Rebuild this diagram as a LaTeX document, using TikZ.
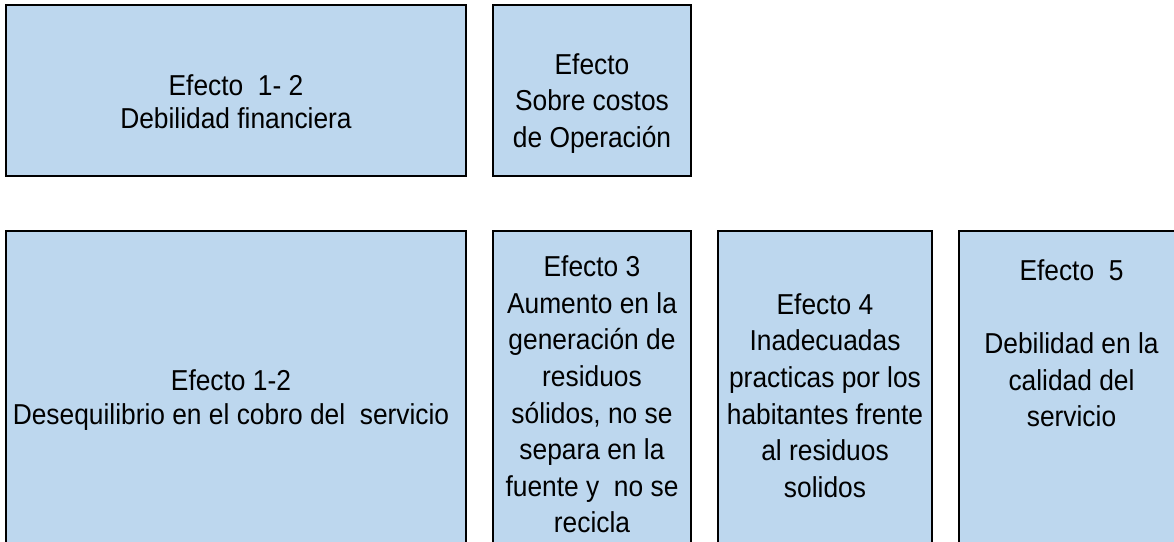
\documentclass[tikz,border=0pt]{standalone}
\usepackage{fontspec}
\setmainfont{Liberation Sans}[FakeStretch=0.915]
\definecolor{boxblue}{HTML}{BDD7EE}
\begin{document}
\begin{tikzpicture}[x=1pt,y=-1pt,
  boxst/.style={rectangle, draw=black, line width=2pt, fill=boxblue, inner sep=0pt},
  txt/.style={anchor=north, inner sep=0pt, align=center, text=black,
              font=\fontsize{28.8}{36.6}\selectfont},
  txtA/.style={txt, font=\fontsize{28.8}{33}\selectfont},
  txtC/.style={txt, font=\fontsize{28.8}{34}\selectfont}]
\useasboundingbox (0,0) rectangle (1174,541);
\clip (0,0) rectangle (1174,541);
% boxes
\node[boxst, minimum width=460pt, minimum height=171pt] (A) at (236,90.5) {};
\node[boxst, minimum width=198pt, minimum height=171pt] (B) at (592,90.5) {};
\node[boxst, minimum width=460pt, minimum height=380pt] (C) at (236,421) {};
\node[boxst, minimum width=198pt, minimum height=380pt] (D) at (592,421) {};
\node[boxst, minimum width=214pt, minimum height=380pt] (E) at (825,421) {};
\node[boxst, minimum width=225pt, minimum height=380pt] (F) at (1071.5,421) {};
% texts
\node[txtA] (tA) at (236,71.9) {\strut Efecto\ \ 1- 2\\Debilidad financiera};
\node[txt] (tB) at (592,48.4) {\strut Efecto\\Sobre costos\\de Operación};
\node[txtC] (tC) at (231,366.2) {\strut Efecto 1-2\\Desequilibrio en el cobro del\ \ servicio};
\node[txt] (tD) at (592,250.9) {\strut Efecto 3\\Aumento en la\\generación de\\residuos\\sólidos, no se\\separa en la\\fuente y\ \ no se\\recicla};
\node[txt] (tE) at (825,288.4) {\strut Efecto 4\\Inadecuadas\\practicas por los\\habitantes frente\\al residuos\\solidos};
\node[txt] (tF) at (1071.5,254.4) {\strut Efecto\ \ 5\\\strut\\Debilidad en la\\calidad del\\servicio};
\end{tikzpicture}
\end{document}
